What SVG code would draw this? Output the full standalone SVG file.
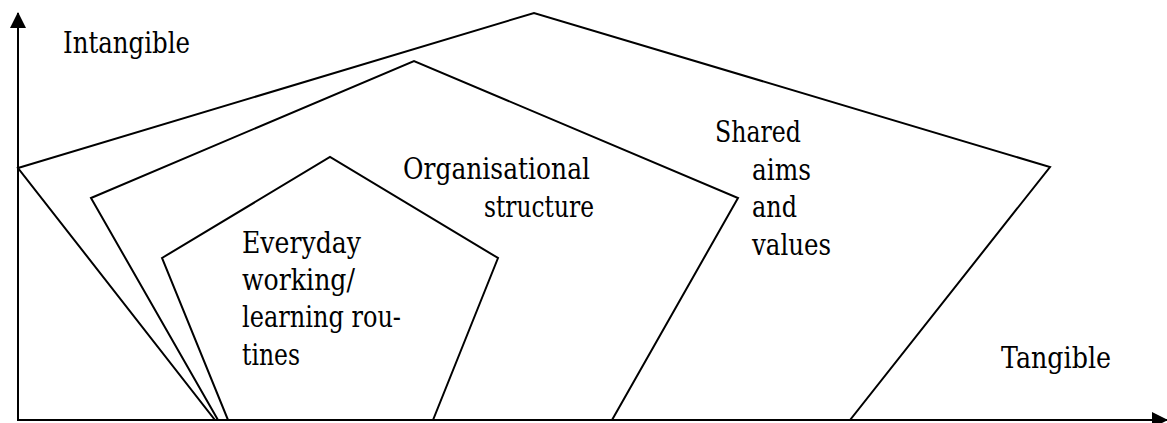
<svg xmlns="http://www.w3.org/2000/svg" width="1167" height="423" viewBox="0 0 1167 423">
<style>
.shape{fill:none;stroke:#000;stroke-width:2;stroke-linejoin:miter}
.axis{fill:none;stroke:#000;stroke-width:2}
.t{font-family:'DejaVu Serif','Liberation Serif',serif;font-size:29px;fill:#000}
</style>
<defs>
<marker id="arr" viewBox="0 0 16 16" refX="15" refY="8" markerWidth="16" markerHeight="16" markerUnits="userSpaceOnUse" orient="auto">
<path d="M0,0 L16,8 L0,16 z" fill="#000"/>
</marker>
</defs>
<rect width="1167" height="423" fill="#fff"/>
<g id="connectors">
<line class="axis" x1="18" y1="421" x2="18" y2="13" marker-end="url(#arr)"/>
<line class="axis" x1="17" y1="420" x2="1167" y2="420" marker-end="url(#arr)"/>
</g>
<g id="outer">
<polygon class="shape" points="18,168 534,13 1050,167 850,420 215,420"/>
<g class="t">
<text x="715" y="142" textLength="86" lengthAdjust="spacingAndGlyphs">Shared</text>
<text x="752" y="180" textLength="59" lengthAdjust="spacingAndGlyphs">aims</text>
<text x="752" y="217" textLength="45" lengthAdjust="spacingAndGlyphs">and</text>
<text x="752" y="255" textLength="79" lengthAdjust="spacingAndGlyphs">values</text>
</g>
</g>
<g id="middle">
<polygon class="shape" points="91,198 414,61 738,198 612,420 218,420"/>
<g class="t">
<text x="403" y="179" textLength="187" lengthAdjust="spacingAndGlyphs">Organisational</text>
<text x="484" y="217" textLength="110" lengthAdjust="spacingAndGlyphs">structure</text>
</g>
</g>
<g id="inner">
<polygon class="shape" points="162,258 330,157 498,258 433,420 228,420"/>
<g class="t">
<text x="242" y="253" textLength="119" lengthAdjust="spacingAndGlyphs">Everyday</text>
<text x="242" y="290" textLength="113" lengthAdjust="spacingAndGlyphs">working/</text>
<text x="242" y="327" textLength="159" lengthAdjust="spacingAndGlyphs">learning rou-</text>
<text x="242" y="365" textLength="58" lengthAdjust="spacingAndGlyphs">tines</text>
</g>
</g>
<g id="labels" class="t">
<text x="63" y="53" textLength="127" lengthAdjust="spacingAndGlyphs">Intangible</text>
<text x="1001" y="368" textLength="110" lengthAdjust="spacingAndGlyphs">Tangible</text>
</g>
</svg>
